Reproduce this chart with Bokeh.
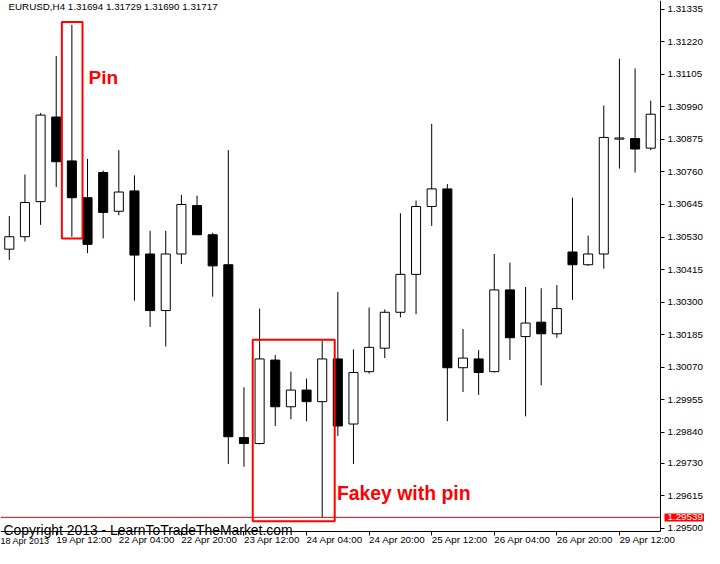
from bokeh.plotting import figure
from bokeh.models import (ColumnDataSource, FixedTicker, Range1d, Label, LinearAxis,
                          NumeralTickFormatter)
from bokeh.embed import file_html
from bokeh.resources import INLINE

# ---------------- data (EURUSD H4) ----------------
opens = [1.30487, 1.30531, 1.30655, 1.30954, 1.30799, 1.30669, 1.30758, 1.30621, 1.30693, 1.30470,
         1.30270, 1.30470, 1.30641, 1.30538, 1.30432, 1.29821, 1.29800, 1.30095, 1.29930, 1.29989,
         1.29948, 1.30099, 1.29869, 1.30054, 1.30137, 1.30264, 1.30398, 1.30638, 1.30700, 1.30068,
         1.30099, 1.30054, 1.30343, 1.30178, 1.30229, 1.30188, 1.30477, 1.30432, 1.30470, 1.30876,
         1.30878, 1.30844]
highs = [1.30604, 1.30751, 1.30968, 1.31170, 1.31280, 1.30806, 1.30765, 1.30837, 1.30748, 1.30552,
         1.30552, 1.30679, 1.30676, 1.30545, 1.30837, 1.29999, 1.30277, 1.30113, 1.30054, 1.30030,
         1.30164, 1.30336, 1.30133, 1.30281, 1.30274, 1.30614, 1.30659, 1.30930, 1.30717, 1.30205,
         1.30130, 1.30470, 1.30439, 1.30353, 1.30349, 1.30360, 1.30669, 1.30535, 1.30995, 1.31160,
         1.31126, 1.31012]
lows = [1.30449, 1.30514, 1.30573, 1.30707, 1.30531, 1.30473, 1.30525, 1.30607, 1.30305, 1.30212,
        1.30143, 1.30435, 1.30538, 1.30319, 1.29728, 1.29718, 1.29797, 1.29862, 1.29886, 1.29879,
        1.29539, 1.29827, 1.29728, 1.30047, 1.30102, 1.30246, 1.30257, 1.30569, 1.29879, 1.29982,
        1.29972, 1.30051, 1.30095, 1.29896, 1.30006, 1.30174, 1.30308, 1.30428, 1.30418, 1.30772,
        1.30758, 1.30837]
closes = [1.30531, 1.30652, 1.30961, 1.30796, 1.30669, 1.30504, 1.30617, 1.30689, 1.30466, 1.30270,
          1.30470, 1.30645, 1.30538, 1.30428, 1.29824, 1.29800, 1.30099, 1.29930, 1.29989, 1.29948,
          1.30099, 1.29862, 1.30051, 1.30140, 1.30264, 1.30398, 1.30638, 1.30700, 1.30068, 1.30102,
          1.30051, 1.30343, 1.30174, 1.30226, 1.30188, 1.30277, 1.30432, 1.30470, 1.30882, 1.30880,
          1.30841, 1.30964]

first_label = "18 Apr 2013"
time_labels = ["19 Apr 12:00", "22 Apr 04:00", "22 Apr 20:00", "23 Apr 12:00", "24 Apr 04:00",
               "24 Apr 20:00", "25 Apr 12:00", "26 Apr 04:00", "26 Apr 20:00", "29 Apr 12:00"]
price_ticks = [1.31335, 1.31220, 1.31105, 1.30990, 1.30875, 1.30760, 1.30645, 1.30530, 1.30415,
               1.30300, 1.30185, 1.30070, 1.29955, 1.29840, 1.29730, 1.29615, 1.29500]
marked_price = 1.29539
title_text = "EURUSD,H4  1.31694 1.31729 1.31690 1.31717"
copyright_text = "Copyright 2013 - LearnToTradeTheMarket.com"

# ---------------- derived ----------------
n = len(opens)
idx = list(range(n))
bar_step = 4
first_tick = 3
tick_pos = [first_tick + bar_step * k for k in range(len(time_labels))]

body_top = [max(o, c) for o, c in zip(opens, closes)]
body_bot = [min(o, c) for o, c in zip(opens, closes)]
fill = ["white" if c >= o else "black" for o, c in zip(opens, closes)]

src = ColumnDataSource(dict(x=idx, high=highs, low=lows, top=body_top, bottom=body_bot, fill=fill))

FONT = "Liberation Sans"
SMALL = "9.8px"
# chart area (where the axes sit) and the full canvas extent
ax_left, ax_right = -0.5625, n - 0.375
ax_bottom, ax_top = 1.29488, 1.31366
canvas_right = ax_right + 2.8125
canvas_bottom = 1.29429

p = figure(width=704, height=548,
           x_range=Range1d(ax_left, canvas_right), y_range=Range1d(canvas_bottom, ax_top),
           output_backend="svg", toolbar_location=None,
           x_axis_location=None, y_axis_location=None,
           min_border=0, min_border_left=0, min_border_right=0,
           min_border_top=0, min_border_bottom=0)
p.outline_line_color = None
p.grid.visible = False
p.background_fill_color = "white"
p.border_fill_color = "white"

# price axis (right)
yaxis = LinearAxis(fixed_location=ax_right, bounds=(ax_bottom, ax_top),
                   ticker=FixedTicker(ticks=price_ticks),
                   formatter=NumeralTickFormatter(format="0.00000"))
yaxis.major_tick_out = 4
yaxis.major_tick_in = 0
yaxis.minor_tick_line_color = None
yaxis.major_label_standoff = 3
yaxis.major_label_text_font = FONT
yaxis.major_label_text_font_size = SMALL
yaxis.major_label_text_color = "black"
yaxis.axis_line_color = "black"
p.add_layout(yaxis, "right")

# time axis (below)
xaxis = LinearAxis(fixed_location=ax_bottom, bounds=(ax_left, ax_right),
                   ticker=FixedTicker(ticks=tick_pos))
xaxis.major_label_overrides = {t: lab for t, lab in zip(tick_pos, time_labels)}
xaxis.major_tick_out = 4
xaxis.major_tick_in = 0
xaxis.minor_tick_line_color = None
xaxis.major_label_standoff = 4
xaxis.major_label_orientation = -0.0001
xaxis.major_label_text_font = FONT
xaxis.major_label_text_font_size = SMALL
xaxis.major_label_text_color = "black"
xaxis.axis_line_color = "black"
p.add_layout(xaxis, "below")

# candles
p.segment(x0="x", y0="high", x1="x", y1="low", source=src, line_color="black", line_width=1)
p.vbar(x="x", top="top", bottom="bottom", width=0.58, source=src,
       fill_color="fill", line_color="black", line_width=1)

# marked price line (chart area only)
p.segment(x0=[ax_left], y0=[marked_price], x1=[ax_right], y1=[marked_price],
          line_color="red", line_width=1)

# annotation boxes (around the pin bar and the fakey setup)
pin_i = 4
fk_a, fk_b = 16, 20
p.quad(left=[pin_i - 0.64], right=[pin_i + 0.68],
       top=[highs[pin_i] + 0.00010], bottom=[lows[pin_i] - 0.00006],
       fill_color=None, line_color="red", line_width=2)
p.quad(left=[fk_a - 0.44], right=[fk_b + 0.80],
       top=[highs[fk_b] + 0.00003], bottom=[lows[fk_b] - 0.00014],
       fill_color=None, line_color="red", line_width=2)

p.add_layout(Label(x=pin_i + 1.06, y=1.31095, text="Pin", text_font=FONT,
                   text_font_style="bold", text_font_size="19px", text_color="red",
                   text_baseline="alphabetic"))
p.add_layout(Label(x=fk_b + 0.94, y=1.29625, text="Fakey with pin", text_font=FONT,
                   text_font_style="bold", text_font_size="19.4px", text_color="red",
                   text_baseline="alphabetic"))

# texts
p.add_layout(Label(x=ax_left, y=ax_top, x_offset=8, y_offset=0, text=title_text, text_font=FONT,
                   text_font_size=SMALL, text_color="black", text_baseline="top"))
p.add_layout(Label(x=ax_left, y=ax_bottom, x_offset=3, y_offset=2, text=copyright_text,
                   text_font=FONT, text_font_size="13.9px", text_color="black",
                   text_baseline="alphabetic"))
p.add_layout(Label(x=ax_right, y=marked_price, x_offset=4, text="1.29539", text_font=FONT,
                   text_font_size=SMALL, text_color="white", text_baseline="middle",
                   background_fill_color="red",
                   padding=dict(left=3, right=8, top=1, bottom=1)))
p.add_layout(Label(x=ax_left, y=ax_bottom, x_offset=0, y_offset=-9, text=first_label,
                   text_font=FONT, text_font_size="9px", text_color="black",
                   text_baseline="middle"))

open("out.html", "w").write(file_html(p, INLINE))
